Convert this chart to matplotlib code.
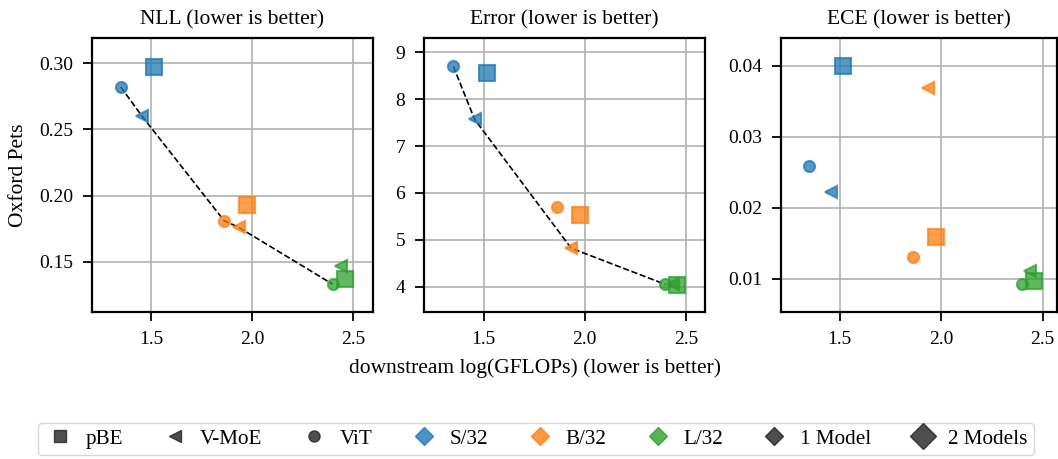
import matplotlib
matplotlib.use("Agg")
import matplotlib.pyplot as plt
from matplotlib.lines import Line2D

plt.rcParams['font.family'] = ['Liberation Serif', 'DejaVu Serif']
plt.rcParams['mathtext.fontset'] = 'stix'

# downstream log(GFLOPs), one value per (model, size)
models = ['pBE', 'V-MoE', 'ViT']
sizes = ['S/32', 'B/32', 'L/32']
gflops = {
    'pBE':   [1.515, 1.975, 2.458],
    'V-MoE': [1.455, 1.933, 2.438],
    'ViT':   [1.350, 1.861, 2.398],
}

nll = {
    'pBE':   [0.297, 0.1925, 0.137],
    'V-MoE': [0.260, 0.176, 0.147],
    'ViT':   [0.282, 0.181, 0.133],
}
error = {
    'pBE':   [8.56, 5.52, 4.04],
    'V-MoE': [7.57, 4.82, 4.06],
    'ViT':   [8.70, 5.69, 4.05],
}
ece = {
    'pBE':   [0.0399, 0.0159, 0.0097],
    'V-MoE': [0.0222, 0.0369, 0.0111],
    'ViT':   [0.0258, 0.0130, 0.0092],
}

# points joined by the dashed frontier line (model, size index)
nll_front = [('ViT', 0), ('V-MoE', 0), ('ViT', 1), ('V-MoE', 1), ('ViT', 2)]
err_front = [('ViT', 0), ('V-MoE', 0), ('V-MoE', 1), ('ViT', 2)]

titles = ['NLL (lower is better)', 'Error (lower is better)', 'ECE (lower is better)']
metrics = [nll, error, ece]
fronts = [nll_front, err_front, None]
ylims = [(0.112, 0.319), (3.46, 9.305), (0.0053, 0.0439)]
yticks = [[0.15, 0.20, 0.25, 0.30], [4, 5, 6, 7, 8, 9], [0.01, 0.02, 0.03, 0.04]]
ytick_fmt = ['{:.2f}', '{:.0f}', '{:.2f}']
xlims = [(1.208, 2.598), (1.205, 2.595), (1.211, 2.571)]

colors = {'S/32': '#1f77b4', 'B/32': '#ff7f0e', 'L/32': '#2ca02c'}
marker = {'pBE': 's', 'V-MoE': '<', 'ViT': 'o'}
msize = {'pBE': 11.5, 'V-MoE': 8, 'ViT': 8}  # pBE = 2 models

fig = plt.figure(figsize=(10.58, 4.59), dpi=100)
axes_pos = [[0.087, 0.3203, 0.2656, 0.5969],
            [0.4008, 0.3203, 0.2656, 0.5969],
            [0.7382, 0.3203, 0.2609, 0.5969]]

for k in range(3):
    ax = fig.add_axes(axes_pos[k])
    data = metrics[k]
    if fronts[k] is not None:
        fx = [gflops[m][i] for m, i in fronts[k]]
        fy = [data[m][i] for m, i in fronts[k]]
        ax.plot(fx, fy, 'k--', lw=1.2, zorder=2)
    for m in models:
        for i, s in enumerate(sizes):
            ax.plot(gflops[m][i], data[m][i], marker=marker[m], ms=msize[m],
                    color=colors[s], mec=colors[s], mew=1.5, alpha=0.75,
                    ls='none', zorder=3)
    ax.set_xlim(xlims[k])
    ax.set_ylim(ylims[k])
    ax.set_xticks([1.5, 2.0, 2.5])
    ax.set_xticklabels(['1.5', '2.0', '2.5'])
    ax.set_yticks(yticks[k])
    ax.set_yticklabels([ytick_fmt[k].format(v) for v in yticks[k]])
    ax.grid(True, color='#b0b0b0', lw=1.2)
    ax.set_axisbelow(True)
    for sp in ax.spines.values():
        sp.set_linewidth(1.6)
    ax.tick_params(axis='both', labelsize=14, length=6.5, width=1.3)
    ax.tick_params(axis='x', pad=7)
    ax.tick_params(axis='y', pad=7)
    ax.set_title(titles[k], fontsize=15.5, pad=10)
    if k == 0:
        ax.set_ylabel('Oxford Pets', fontsize=15.5, labelpad=8)

fig.text(0.5057, 0.198, 'downstream log(GFLOPs) (lower is better)',
         fontsize=15.5, ha='center', va='center')

dark = '#222222'
handles = [
    Line2D([], [], ls='none', marker='s', ms=8, color=dark, alpha=0.8, label='pBE'),
    Line2D([], [], ls='none', marker='<', ms=8, color=dark, alpha=0.8, label='V-MoE'),
    Line2D([], [], ls='none', marker='o', ms=8, color=dark, alpha=0.8, label='ViT'),
    Line2D([], [], ls='none', marker='D', ms=9, color=colors['S/32'], alpha=0.8, label='S/32'),
    Line2D([], [], ls='none', marker='D', ms=9, color=colors['B/32'], alpha=0.8, label='B/32'),
    Line2D([], [], ls='none', marker='D', ms=9, color=colors['L/32'], alpha=0.8, label='L/32'),
    Line2D([], [], ls='none', marker='D', ms=9, color=dark, alpha=0.8, label='1 Model'),
    Line2D([], [], ls='none', marker='D', ms=13, color=dark, alpha=0.8, label='2 Models'),
]
fig.legend(handles=handles, loc='center', bbox_to_anchor=(0.5066, 0.0436),
           ncol=8, fontsize=15.2, frameon=True, handletextpad=0.45,
           columnspacing=1.7, borderpad=0.3, handlelength=1.5)

fig.savefig('out.png', dpi=100)
